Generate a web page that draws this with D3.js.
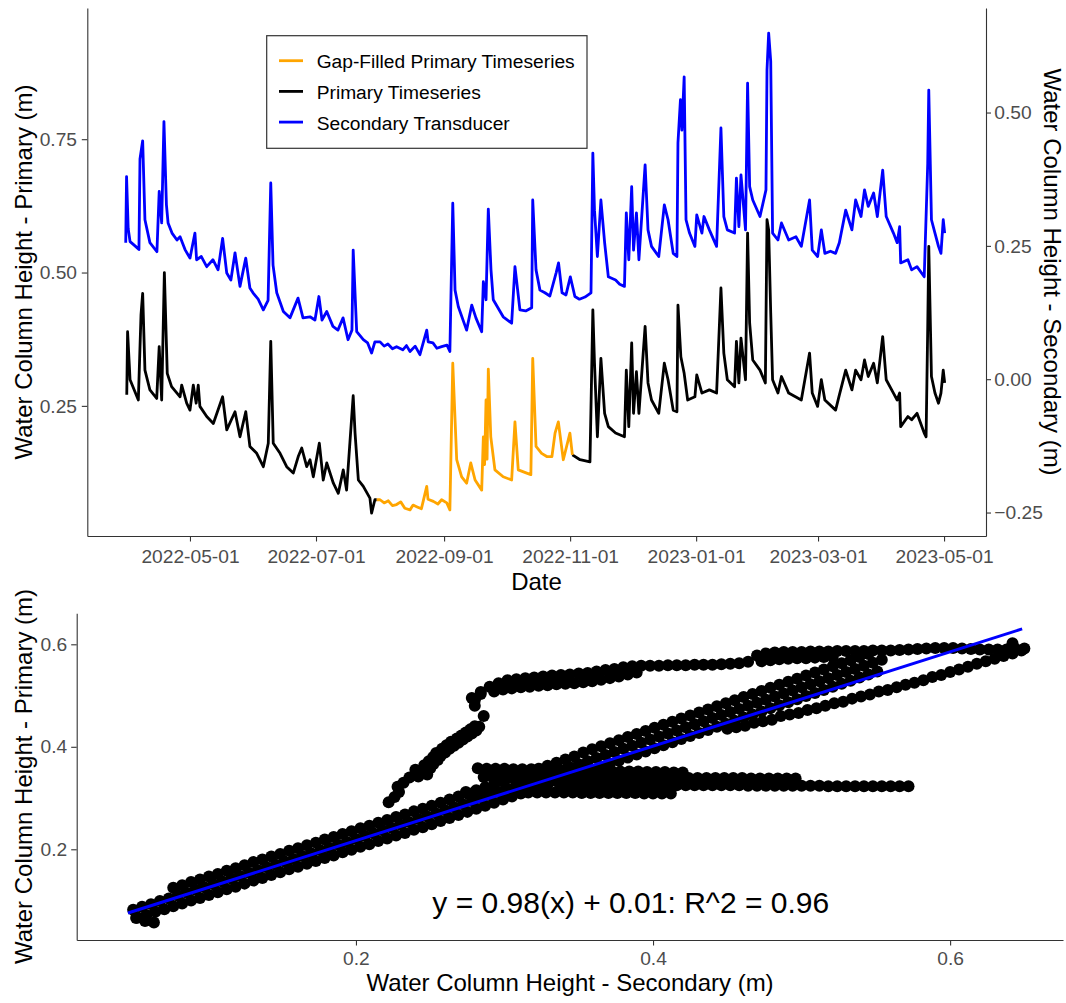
<!DOCTYPE html>
<html><head><meta charset="utf-8">
<script src="https://cdn.jsdelivr.net/npm/d3@7"></script>
<style>
body{margin:0;background:#fff}
svg{display:block;font-family:"Liberation Sans",Arial,sans-serif}
</style></head><body><svg id="c" width="1066" height="1003"></svg>
<script>
// ---------------- DATA ----------------
// time values are days after DAY0 (2022-05-01)
const DAY0 = "2022-05-01";
const dateTicks = ["2022-05-01","2022-07-01","2022-09-01","2022-11-01","2023-01-01","2023-03-01","2023-05-01"];
const primaryTicks = [0.25, 0.50, 0.75];
const secondaryTicks = [-0.25, 0.00, 0.25, 0.50];
const secondaryOffset = 0.30;          // secondary axis = primary axis - 0.30
const legendLabels = ["Gap-Filled Primary Timeseries", "Primary Timeseries", "Secondary Transducer"];
const legendColors = ["#FFA500", "#000000", "#0000FF"];

// Secondary transducer (read on right axis)
const secondary = [[-31.1,0.256],[-30.7,0.380],[-29.9,0.282],[-29.0,0.258],[-26.6,0.250],[-24.7,0.243],[-24.2,0.413],[-22.9,0.447],[-21.8,0.299],[-19.4,0.256],[-16.0,0.239],[-14.9,0.352],[-13.7,0.293],[-12.6,0.483],[-11.4,0.327],[-10.6,0.293],[-8.7,0.274],[-6.3,0.261],[-4.8,0.267],[-2.4,0.243],[0,0.227],[2.4,0.274],[3.2,0.224],[5.5,0.230],[8.1,0.211],[11.1,0.224],[13.6,0.205],[15.8,0.264],[17.8,0.199],[19.8,0.186],[21.8,0.237],[24.2,0.174],[27.0,0.227],[29.0,0.171],[30.5,0.162],[33.0,0.150],[35.5,0.130],[37.8,0.148],[39.1,0.368],[40.2,0.214],[42.0,0.162],[45.2,0.127],[48.4,0.115],[52.3,0.152],[54.7,0.115],[58.1,0.117],[60.5,0.111],[62.4,0.155],[63.9,0.111],[66.2,0.127],[69.2,0.099],[71.6,0.092],[74.1,0.115],[76.5,0.074],[78.4,0.092],[79.0,0.242],[80.7,0.089],[83.9,0.074],[86.0,0.068],[87.9,0.049],[89.5,0.070],[92.0,0.070],[94.0,0.062],[95.8,0.066],[98.0,0.057],[100.0,0.061],[103.0,0.055],[104.8,0.063],[106.5,0.052],[109.0,0.062],[111.3,0.046],[114.6,0.092],[115.3,0.070],[117.6,0.068],[119.5,0.058],[121.8,0.061],[124.4,0.064],[125.8,0.052],[127.2,0.330],[128.3,0.167],[129.9,0.136],[133.9,0.092],[136.4,0.139],[138.4,0.115],[141.2,0.089],[142.0,0.183],[143.3,0.149],[144.4,0.319],[145.7,0.205],[146.8,0.149],[151.6,0.117],[155.7,0.105],[157.3,0.211],[159.7,0.130],[162.5,0.128],[165.4,0.134],[165.9,0.336],[167.5,0.205],[169.4,0.167],[171.8,0.162],[174.2,0.156],[177.2,0.199],[178.4,0.218],[180.1,0.162],[182.0,0.158],[184.1,0.192],[186.3,0.155],[188.5,0.150],[191.2,0.154],[194.1,0.162],[195.0,0.424],[195.8,0.317],[197.2,0.230],[198.9,0.336],[200.7,0.256],[202.5,0.192],[206.0,0.186],[208.0,0.178],[210.3,0.174],[211.2,0.312],[212.4,0.224],[213.8,0.361],[214.7,0.242],[216.1,0.312],[217.3,0.224],[220.3,0.402],[221.7,0.280],[223.4,0.249],[226.9,0.230],[229.6,0.327],[231.4,0.299],[233.9,0.236],[235.7,0.230],[236.2,0.443],[237.4,0.524],[238.1,0.467],[239.2,0.567],[240.1,0.299],[241.8,0.274],[244.4,0.249],[245.3,0.308],[247.8,0.274],[248.8,0.305],[251.4,0.280],[254.9,0.249],[257.0,0.471],[258.4,0.305],[260.1,0.280],[263.6,0.274],[264.5,0.377],[265.7,0.286],[266.7,0.383],[268.9,0.280],[269.9,0.555],[270.9,0.361],[272.4,0.336],[275.9,0.305],[278.8,0.355],[279.3,0.580],[280.1,0.649],[281.1,0.596],[282.0,0.274],[284.6,0.261],[286.3,0.293],[289.8,0.261],[293.3,0.267],[295.9,0.249],[299.9,0.336],[301.2,0.242],[303.8,0.230],[305.6,0.280],[307.3,0.236],[310.0,0.240],[312.5,0.236],[314.3,0.256],[317.4,0.317],[320.4,0.280],[322.2,0.336],[324.8,0.305],[326.5,0.355],[328.3,0.324],[330.9,0.349],[332.7,0.305],[335.3,0.392],[337.0,0.305],[340.5,0.274],[342.3,0.256],[343.5,0.286],[344.0,0.218],[347.5,0.224],[349.3,0.205],[351.9,0.211],[355.4,0.192],[357.1,0.405],[357.6,0.542],[358.9,0.299],[360.6,0.274],[362.3,0.249],[363.5,0.236],[364.6,0.299],[365.3,0.274]];

// Primary timeseries (observed), before the gap
const primaryA = [[-30.6,0.271],[-30.2,0.389],[-29.0,0.299],[-25.0,0.261],[-23.7,0.421],[-22.9,0.461],[-21.8,0.317],[-19.4,0.280],[-16.1,0.264],[-14.9,0.361],[-13.7,0.261],[-12.4,0.500],[-11.0,0.311],[-8.9,0.286],[-4.8,0.267],[-4.0,0.289],[-1.6,0.255],[0,0.242],[1.6,0.289],[3.0,0.255],[4.0,0.289],[4.8,0.249],[8.1,0.230],[11.3,0.217],[15.8,0.267],[17.8,0.205],[21.8,0.239],[24.2,0.192],[27.0,0.239],[29.0,0.174],[32.3,0.161],[35.5,0.136],[37.9,0.180],[39.1,0.371],[40.3,0.180],[43.6,0.161],[46.8,0.136],[50.0,0.124],[52.4,0.155],[54.1,0.171],[56.5,0.136],[58.1,0.149],[59.7,0.117],[62.6,0.180],[64.5,0.111],[66.2,0.143],[69.4,0.105],[71.8,0.086],[74.2,0.130],[75.8,0.092],[79.0,0.269],[79.9,0.199],[81.5,0.111],[83.9,0.099],[87.1,0.077],[87.9,0.049],[89.5,0.074],[90.4,0.074]];

// Gap-filled primary
const gapFilled = [[90.4,0.074],[92.0,0.074],[94.0,0.068],[96.0,0.072],[98.0,0.063],[100.0,0.065],[102.0,0.070],[104.0,0.058],[106.5,0.055],[108.0,0.064],[109.7,0.061],[112.0,0.057],[114.6,0.099],[115.2,0.075],[117.8,0.071],[120.0,0.066],[121.8,0.074],[124.3,0.068],[125.8,0.055],[127.2,0.330],[129.1,0.149],[131.5,0.117],[133.9,0.105],[135.9,0.143],[138.0,0.111],[141.2,0.092],[142.0,0.192],[142.6,0.140],[143.3,0.261],[143.8,0.150],[144.4,0.319],[145.6,0.192],[147.6,0.130],[151.6,0.117],[155.7,0.111],[157.3,0.220],[158.9,0.130],[163.0,0.124],[165.0,0.121],[165.9,0.339],[167.5,0.174],[170.2,0.161],[172.7,0.155],[175.2,0.155],[176.7,0.199],[178.3,0.220],[180.7,0.149],[183.9,0.199],[185.1,0.158]];

// Primary timeseries (observed), after the gap
const primaryB = [[185.1,0.158],[188.8,0.149],[193.6,0.145],[195.0,0.430],[195.8,0.330],[197.2,0.192],[198.9,0.339],[200.7,0.236],[202.5,0.211],[206.0,0.199],[210.3,0.192],[211.2,0.317],[212.4,0.211],[213.8,0.368],[214.7,0.236],[216.1,0.314],[217.3,0.236],[220.3,0.399],[221.7,0.293],[223.4,0.261],[226.9,0.236],[229.6,0.330],[231.4,0.299],[233.9,0.242],[235.7,0.239],[236.2,0.439],[237.6,0.342],[239.2,0.311],[240.9,0.261],[244.4,0.267],[245.3,0.308],[247.8,0.274],[251.4,0.280],[254.9,0.274],[257.0,0.471],[258.4,0.349],[260.1,0.299],[263.6,0.286],[264.5,0.371],[265.7,0.293],[266.7,0.377],[268.9,0.299],[269.9,0.574],[270.9,0.405],[272.4,0.336],[275.9,0.317],[278.5,0.293],[279.3,0.599],[280.1,0.580],[281.1,0.424],[282.0,0.299],[284.6,0.274],[286.3,0.305],[289.8,0.274],[295.9,0.261],[299.9,0.349],[301.2,0.274],[303.8,0.249],[305.6,0.299],[307.3,0.261],[312.5,0.242],[314.3,0.270],[317.4,0.317],[320.4,0.280],[322.2,0.317],[324.8,0.299],[326.5,0.336],[328.3,0.305],[330.9,0.330],[332.7,0.293],[335.3,0.380],[337.0,0.299],[340.5,0.274],[342.3,0.261],[343.5,0.274],[344.0,0.211],[347.5,0.230],[349.3,0.224],[351.9,0.236],[355.4,0.199],[356.3,0.192],[357.1,0.399],[357.6,0.549],[358.9,0.305],[360.6,0.274],[362.3,0.255],[363.5,0.274],[364.6,0.317],[365.3,0.293]];

// Scatter: [secondary, primary]
const scatterMainMid = [[0.050,0.082],[0.056,0.088],[0.062,0.093],[0.068,0.099],[0.074,0.104],[0.080,0.110],[0.086,0.115],[0.092,0.121],[0.098,0.126],[0.104,0.132],[0.110,0.137],[0.116,0.143],[0.122,0.148],[0.128,0.154],[0.134,0.159],[0.140,0.165],[0.146,0.170],[0.152,0.176],[0.158,0.181],[0.164,0.187],[0.170,0.192],[0.176,0.198],[0.182,0.203],[0.188,0.209],[0.194,0.214],[0.200,0.220],[0.206,0.226],[0.212,0.231],[0.218,0.237],[0.224,0.242],[0.230,0.248],[0.236,0.253],[0.242,0.259],[0.248,0.264],[0.254,0.270],[0.260,0.276],[0.266,0.282],[0.272,0.288],[0.278,0.294],[0.284,0.300],[0.290,0.306],[0.296,0.312],[0.302,0.318],[0.308,0.324],[0.314,0.330],[0.320,0.336],[0.326,0.342],[0.332,0.348],[0.338,0.354],[0.344,0.360],[0.350,0.366],[0.356,0.372],[0.362,0.378],[0.368,0.384],[0.374,0.390],[0.380,0.396],[0.386,0.402],[0.392,0.408],[0.398,0.414],[0.404,0.420],[0.410,0.426],[0.416,0.432],[0.422,0.438],[0.428,0.444],[0.434,0.450],[0.440,0.456],[0.446,0.462],[0.452,0.468],[0.458,0.474],[0.464,0.480],[0.470,0.486],[0.476,0.492],[0.482,0.498],[0.488,0.504],[0.494,0.510],[0.500,0.516],[0.506,0.522],[0.512,0.528],[0.518,0.534],[0.524,0.540],[0.530,0.546],[0.536,0.552],[0.542,0.558],[0.548,0.564],[0.554,0.570]];
const scatterMainLow = [[0.053,0.067],[0.059,0.072],[0.065,0.078],[0.071,0.083],[0.077,0.089],[0.083,0.094],[0.089,0.100],[0.095,0.105],[0.101,0.111],[0.107,0.116],[0.113,0.122],[0.119,0.127],[0.125,0.133],[0.131,0.139],[0.137,0.144],[0.143,0.150],[0.149,0.155],[0.155,0.161],[0.161,0.166],[0.167,0.172],[0.173,0.177],[0.179,0.183],[0.185,0.188],[0.191,0.194],[0.197,0.199],[0.203,0.205],[0.209,0.210],[0.215,0.216],[0.221,0.221],[0.227,0.227],[0.233,0.232],[0.239,0.238],[0.245,0.243],[0.251,0.249],[0.257,0.255],[0.263,0.261],[0.269,0.267],[0.275,0.273],[0.281,0.279],[0.287,0.285],[0.293,0.291],[0.299,0.297],[0.305,0.303],[0.311,0.309],[0.317,0.315],[0.323,0.321],[0.329,0.327],[0.335,0.333],[0.341,0.339],[0.347,0.345],[0.353,0.349],[0.359,0.355],[0.365,0.361],[0.371,0.367],[0.377,0.373],[0.383,0.379],[0.389,0.385],[0.395,0.391],[0.401,0.397],[0.407,0.403],[0.413,0.409],[0.419,0.415],[0.425,0.421],[0.431,0.427],[0.437,0.433],[0.443,0.439],[0.449,0.445],[0.455,0.451],[0.461,0.457],[0.467,0.463],[0.473,0.469],[0.479,0.475],[0.485,0.481],[0.491,0.487],[0.497,0.493],[0.503,0.499],[0.509,0.505],[0.515,0.511],[0.521,0.517],[0.527,0.523],[0.533,0.529],[0.539,0.535],[0.545,0.541],[0.551,0.547],[0.058,0.060],[0.064,0.057],[0.052,0.066]];
const scatterMainHigh = [[0.077,0.125],[0.083,0.130],[0.089,0.136],[0.095,0.141],[0.101,0.147],[0.107,0.152],[0.113,0.158],[0.119,0.163],[0.125,0.169],[0.131,0.175],[0.137,0.180],[0.143,0.186],[0.149,0.191],[0.155,0.197],[0.161,0.202],[0.167,0.208],[0.173,0.213],[0.179,0.219],[0.185,0.224],[0.191,0.230],[0.197,0.235],[0.203,0.241],[0.209,0.246],[0.215,0.252],[0.221,0.257],[0.227,0.263],[0.233,0.268],[0.239,0.274],[0.245,0.279],[0.251,0.285],[0.257,0.291],[0.263,0.297],[0.269,0.303],[0.275,0.309],[0.281,0.315],[0.287,0.321],[0.293,0.327],[0.299,0.333],[0.305,0.339],[0.311,0.345],[0.317,0.351],[0.323,0.357],[0.329,0.363],[0.335,0.369],[0.341,0.375],[0.347,0.381],[0.353,0.389],[0.359,0.395],[0.365,0.401],[0.371,0.407],[0.377,0.413],[0.383,0.419],[0.389,0.425],[0.395,0.431],[0.401,0.437],[0.407,0.443],[0.413,0.449],[0.419,0.455],[0.425,0.461],[0.431,0.467],[0.437,0.473],[0.443,0.479],[0.449,0.485],[0.455,0.491],[0.461,0.497],[0.467,0.503],[0.473,0.509],[0.479,0.515],[0.485,0.521],[0.491,0.527],[0.497,0.533],[0.503,0.539],[0.509,0.545],[0.515,0.551],[0.521,0.557],[0.527,0.563],[0.533,0.569],[0.539,0.575],[0.545,0.581]];
const scatterBranch = [[0.222,0.292],[0.226,0.302],[0.229,0.312],[0.228,0.322],[0.232,0.330],[0.236,0.340],[0.242,0.342],[0.248,0.346],[0.244,0.352],[0.250,0.358],[0.252,0.366],[0.255,0.374],[0.257,0.382],[0.260,0.389],[0.263,0.396],[0.266,0.402],[0.269,0.408],[0.272,0.414],[0.275,0.420],[0.278,0.426],[0.281,0.432],[0.283,0.439],[0.286,0.460],[0.280,0.480],[0.280,0.491],[0.284,0.503],
  [0.240,0.355],[0.246,0.364],[0.249,0.372],[0.252,0.380],[0.254,0.388],[0.258,0.396],[0.261,0.403],[0.264,0.410],[0.268,0.416],[0.271,0.422],[0.274,0.428],[0.277,0.434],[0.280,0.440]];
const scatterUpper = [[0.278,0.495],[0.284,0.507],[0.290,0.517],[0.296,0.524],[0.302,0.530],[0.308,0.532],[0.314,0.534],[0.320,0.535],[0.326,0.537],[0.332,0.539],[0.338,0.540],[0.344,0.541],[0.350,0.543],[0.356,0.544],[0.362,0.547],[0.368,0.550],[0.374,0.552],[0.380,0.555],[0.386,0.557],[0.392,0.558],[0.398,0.558],[0.404,0.558],[0.410,0.559],[0.416,0.559],[0.422,0.559],[0.428,0.560],[0.434,0.560],[0.440,0.560],[0.446,0.561],[0.452,0.562],[0.458,0.563],[0.464,0.566],[0.470,0.578],[0.476,0.582],[0.482,0.584],[0.488,0.585],[0.494,0.585],[0.500,0.585],[0.506,0.586],[0.512,0.586],[0.518,0.586],[0.524,0.587],[0.530,0.587],[0.536,0.587],[0.542,0.587],[0.548,0.588],[0.554,0.588],[0.560,0.588],[0.566,0.589],[0.572,0.590],[0.578,0.591],[0.584,0.592],[0.590,0.593],[0.596,0.593],[0.602,0.593],[0.608,0.592],[0.614,0.591],[0.620,0.590],[0.626,0.590],[0.632,0.590],[0.638,0.590],[0.644,0.591],[0.650,0.592],[0.642,0.602],
  [0.293,0.508],[0.299,0.512],[0.305,0.514],[0.311,0.516],[0.317,0.517],[0.323,0.519],[0.329,0.520],[0.335,0.522],[0.341,0.523],[0.347,0.524],[0.353,0.526],[0.359,0.528],[0.365,0.531],[0.371,0.534],[0.377,0.537],[0.383,0.541],[0.389,0.545],
  [0.473,0.567],[0.479,0.569],[0.485,0.571],[0.491,0.572],[0.497,0.573],[0.503,0.573],[0.509,0.574],[0.515,0.575],[0.521,0.575]];
const scatterLowerDiag = [[0.450,0.435],[0.456,0.438],[0.462,0.441],[0.468,0.447],[0.474,0.450],[0.480,0.453],[0.486,0.460],[0.492,0.463],[0.498,0.466],[0.504,0.472],[0.510,0.475],[0.516,0.480],[0.522,0.485],[0.528,0.488],[0.534,0.494],[0.540,0.498],[0.546,0.502],[0.552,0.508],[0.558,0.511],[0.564,0.516],[0.570,0.521],[0.576,0.525],[0.582,0.530],[0.588,0.536],[0.594,0.540],[0.600,0.546],[0.606,0.551],[0.612,0.556],[0.618,0.562],[0.624,0.567],[0.630,0.572],[0.636,0.577],[0.642,0.582],[0.648,0.588]];
const scatterFlatA = [[0.282,0.358],[0.288,0.357],[0.294,0.357],[0.300,0.357],[0.306,0.356],[0.312,0.356],[0.318,0.356],[0.324,0.356],[0.330,0.355],[0.336,0.355],[0.342,0.355],[0.348,0.354],[0.354,0.354],[0.360,0.353],[0.366,0.353],[0.372,0.353],[0.378,0.352],[0.384,0.352],[0.390,0.352],[0.396,0.351],[0.402,0.351],[0.408,0.351],[0.414,0.350],[0.420,0.350]];
const scatterFlatB = [[0.286,0.341],[0.292,0.341],[0.298,0.341],[0.304,0.341],[0.310,0.341],[0.316,0.341],[0.322,0.341],[0.328,0.341],[0.334,0.341],[0.340,0.341],[0.346,0.341],[0.352,0.340],[0.358,0.340],[0.364,0.340],[0.370,0.340],[0.376,0.340],[0.382,0.340],[0.388,0.340],[0.394,0.340],[0.400,0.340],[0.406,0.340],[0.412,0.340],[0.418,0.340],[0.424,0.339],[0.430,0.339],[0.436,0.339],[0.442,0.339],[0.448,0.339],[0.454,0.339],[0.460,0.339],[0.466,0.338],[0.472,0.338],[0.478,0.338],[0.484,0.338],[0.490,0.338],[0.496,0.338]];
const scatterFlatC = [[0.338,0.326],[0.344,0.326],[0.350,0.326],[0.356,0.326],[0.362,0.326],[0.368,0.326],[0.374,0.326],[0.380,0.326],[0.386,0.326],[0.392,0.326],[0.398,0.326],[0.404,0.326],[0.410,0.326],[0.416,0.325],[0.422,0.325],[0.428,0.325],[0.434,0.325],[0.440,0.325],[0.446,0.325],[0.452,0.325],[0.458,0.325],[0.464,0.324],[0.470,0.324],[0.476,0.324],[0.482,0.324],[0.488,0.324],[0.494,0.324],[0.500,0.324],[0.506,0.324],[0.512,0.324],[0.518,0.323],[0.524,0.323],[0.530,0.323],[0.536,0.323],[0.542,0.323],[0.548,0.323],[0.554,0.323],[0.560,0.323],[0.566,0.323],[0.572,0.323]];
const scatterFlatD = [[0.274,0.312],[0.280,0.312],[0.286,0.312],[0.292,0.312],[0.298,0.312],[0.304,0.311],[0.310,0.311],[0.316,0.311],[0.322,0.311],[0.328,0.311],[0.334,0.311],[0.340,0.311],[0.346,0.311],[0.352,0.310],[0.358,0.310],[0.364,0.310],[0.370,0.310],[0.376,0.310],[0.382,0.310],[0.388,0.310],[0.394,0.309],[0.400,0.309],[0.406,0.309],[0.412,0.309]];
const fitLine = [[0.0465,0.0757],[0.6485,0.630]];
const fitLabel = "y = 0.98(x) + 0.01: R^2 = 0.96";
const scatterXTicks = [0.2, 0.4, 0.6];
const scatterYTicks = [0.2, 0.4, 0.6];

// ---------------- DRAW ----------------
const svg = d3.select("#c");
const t0 = d3.utcParse("%Y-%m-%d")(DAY0).getTime();
const toDate = d => new Date(t0 + d * 864e5);
const AX = "#333333", TXT = "#4D4D4D";

const x = d3.scaleUtc().domain([toDate(-49.7), toDate(385.3)]).range([87.3, 986]);
const yP = d3.scaleLinear().domain([0.006, 0.996]).range([536, 8]);
const yS = d3.scaleLinear().domain([0.006 - secondaryOffset, 0.996 - secondaryOffset]).range([536, 8]);

function styleAxis(g, fs) {
  g.select(".domain").attr("stroke", AX).attr("stroke-width", 1.1);
  g.selectAll(".tick line").attr("stroke", AX).attr("stroke-width", 1.1);
  g.selectAll(".tick text").attr("fill", TXT).style("font-size", fs + "px")
    .style("font-family", '"Liberation Sans", Arial, sans-serif');
}

const parse = d3.utcParse("%Y-%m-%d");
const gx = svg.append("g").attr("transform", "translate(0,536)")
  .call(d3.axisBottom(x).tickValues(dateTicks.map(parse)).tickFormat(d3.utcFormat("%Y-%m-%d"))
    .tickSize(5.5).tickSizeOuter(0).tickPadding(7.8));
styleAxis(gx, 19.2);
const gyl = svg.append("g").attr("transform", "translate(87.3,0)")
  .call(d3.axisLeft(yP).tickValues(primaryTicks).tickFormat(d3.format(".2f")).tickSize(5.5).tickSizeOuter(0).tickPadding(4.8));
styleAxis(gyl, 19.2);
const gyr = svg.append("g").attr("transform", "translate(986,0)")
  .call(d3.axisRight(yS).tickValues(secondaryTicks).tickFormat(d3.format(".2f")).tickSize(5).tickSizeOuter(0).tickPadding(3.3));
styleAxis(gyr, 19.2);

const lineS = d3.line().x(d => x(toDate(d[0]))).y(d => yS(d[1]));
const lineP = d3.line().x(d => x(toDate(d[0]))).y(d => yP(d[1]));
const LW = 2.8;
svg.append("path").datum(secondary).attr("fill", "none").attr("stroke", legendColors[2])
  .attr("stroke-width", LW).attr("stroke-linejoin", "round").attr("d", lineS);
[primaryA, primaryB].forEach(s => svg.append("path").datum(s).attr("fill", "none").attr("stroke", legendColors[1])
  .attr("stroke-width", LW).attr("stroke-linejoin", "round").attr("d", lineP));
svg.append("path").datum(gapFilled).attr("fill", "none").attr("stroke", legendColors[0])
  .attr("stroke-width", LW).attr("stroke-linejoin", "round").attr("d", lineP);

svg.append("text").attr("transform", "translate(32,272) rotate(-90)").attr("text-anchor", "middle")
  .style("font-size", "24px").attr("fill", "#000").text("Water Column Height - Primary (m)");
svg.append("text").attr("transform", "translate(1044,272) rotate(90)").attr("text-anchor", "middle")
  .style("font-size", "24px").attr("fill", "#000").text("Water Column Height - Secondary (m)");
svg.append("text").attr("x", 536.5).attr("y", 590).attr("text-anchor", "middle")
  .style("font-size", "24px").attr("fill", "#000").text("Date");

const lg = svg.append("g");
lg.append("rect").attr("x", 266.7).attr("y", 35.7).attr("width", 320.3).attr("height", 112.6)
  .attr("fill", "#fff").attr("stroke", AX).attr("stroke-width", 1.2);
legendLabels.forEach((lab, i) => {
  const yy = 60.7 + i * 30.7;
  lg.append("line").attr("x1", 279).attr("x2", 303).attr("y1", yy).attr("y2", yy)
    .attr("stroke", legendColors[i]).attr("stroke-width", LW);
  lg.append("text").attr("x", 316.7).attr("y", yy + 7.5).style("font-size", "19.2px").attr("fill", "#000").text(lab);
});

// Bottom panel
const xs = d3.scaleLinear().domain([0.012, 0.676]).range([76.7, 1063]);
const ys = d3.scaleLinear().domain([0.023, 0.6605]).range([940, 613.3]);
const gbx = svg.append("g").attr("transform", "translate(0,940)")
  .call(d3.axisBottom(xs).tickValues(scatterXTicks).tickFormat(d3.format(".1f")).tickSize(5.5).tickSizeOuter(0).tickPadding(6));
styleAxis(gbx, 19.2);
const gby = svg.append("g").attr("transform", "translate(76.7,0)")
  .call(d3.axisLeft(ys).tickValues(scatterYTicks).tickFormat(d3.format(".1f")).tickSize(5.5).tickSizeOuter(0).tickPadding(4));
styleAxis(gby, 19.2);

const allPts = [].concat(scatterMainLow, scatterMainMid, scatterMainHigh, scatterBranch, scatterUpper,
  scatterLowerDiag, scatterFlatA, scatterFlatB, scatterFlatC, scatterFlatD);
svg.append("g").selectAll("circle").data(allPts).join("circle")
  .attr("cx", d => xs(d[0])).attr("cy", d => ys(d[1])).attr("r", 6).attr("fill", "#000");

svg.append("path").datum(fitLine).attr("fill", "none").attr("stroke", "#0000FF").attr("stroke-width", 3)
  .attr("d", d3.line().x(d => xs(d[0])).y(d => ys(d[1])));

svg.append("text").attr("x", xs(0.385)).attr("y", 913).attr("text-anchor", "middle")
  .style("font-size", "30px").attr("fill", "#000").text(fitLabel);

svg.append("text").attr("transform", "translate(32,776.5) rotate(-90)").attr("text-anchor", "middle")
  .style("font-size", "24px").attr("fill", "#000").text("Water Column Height - Primary (m)");
svg.append("text").attr("x", 570).attr("y", 991).attr("text-anchor", "middle")
  .style("font-size", "24px").attr("fill", "#000").text("Water Column Height - Secondary (m)");
</script></body></html>
